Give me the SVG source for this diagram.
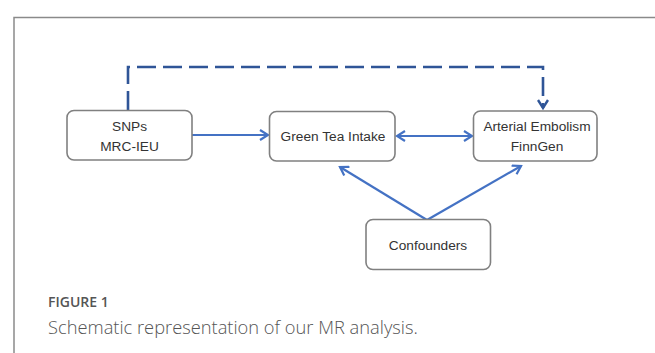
<svg xmlns="http://www.w3.org/2000/svg" width="655" height="353" viewBox="0 0 655 353">
<defs>
<style>
.box{fill:#fff;stroke:#808080;stroke-width:1.6}
.lbl{font-family:"Liberation Sans",Arial,sans-serif;font-size:13.7px;fill:#333;text-anchor:middle}
.solid{stroke:#4472C4;stroke-width:2.2;fill:none}
.dash{stroke:#2F5597;stroke-width:2.6;fill:none;stroke-dasharray:19 7}
.cap{font-family:"Open Sans","Noto Sans",sans-serif;fill:#555}
</style>
<marker id="ah" viewBox="0 0 12 12" refX="10" refY="6" markerWidth="12" markerHeight="12" markerUnits="userSpaceOnUse" orient="auto-start-reverse">
<path d="M2,1 L10,6 L2,11" fill="none" stroke="#4472C4" stroke-width="2.2"/>
</marker>
<marker id="ahd" viewBox="0 0 12 12" refX="10" refY="6" markerWidth="12" markerHeight="12" markerUnits="userSpaceOnUse" orient="auto">
<path d="M2,1 L10,6 L2,11" fill="none" stroke="#2F5597" stroke-width="2.4"/>
</marker>
</defs>
<rect width="655" height="353" fill="#fff"/>
<path d="M14,353 V17.5 H655" fill="none" stroke="#8a8a8a" stroke-width="1.5"/>
<g id="connectors">
<path class="dash" d="M128,110 V67 H543 V108" marker-end="url(#ahd)"/>
<line class="solid" x1="192" y1="135" x2="268" y2="135" marker-end="url(#ah)"/>
<line class="solid" x1="397" y1="136" x2="472" y2="136" marker-start="url(#ah)" marker-end="url(#ah)"/>
<line class="solid" x1="427" y1="220" x2="340" y2="167" marker-end="url(#ah)"/>
<line class="solid" x1="427" y1="220" x2="521" y2="166" marker-end="url(#ah)"/>
</g>
<g id="snps">
<rect class="box" x="67" y="110.5" width="125" height="49.5" rx="7"/>
<text class="lbl" x="129.5" y="131">SNPs</text>
<text class="lbl" x="129.5" y="151">MRC-IEU</text>
</g>
<g id="greentea">
<rect class="box" x="269.5" y="111.5" width="125.5" height="49.5" rx="7"/>
<text class="lbl" x="333" y="141">Green Tea Intake</text>
</g>
<g id="arterial">
<rect class="box" x="473.5" y="111" width="123.5" height="50" rx="7"/>
<text class="lbl" x="537" y="130.5">Arterial Embolism</text>
<text class="lbl" x="537" y="150.5">FinnGen</text>
</g>
<g id="confounders">
<rect class="box" x="366" y="219.5" width="124.5" height="50" rx="7"/>
<text class="lbl" x="428" y="250">Confounders</text>
</g>
<g id="caption">
<text class="cap" x="48" y="307" font-size="14" font-weight="600">FIGURE 1</text>
<text class="cap" x="48" y="334" font-size="18.3" font-weight="300">Schematic representation of our MR analysis.</text>
</g>
</svg>
